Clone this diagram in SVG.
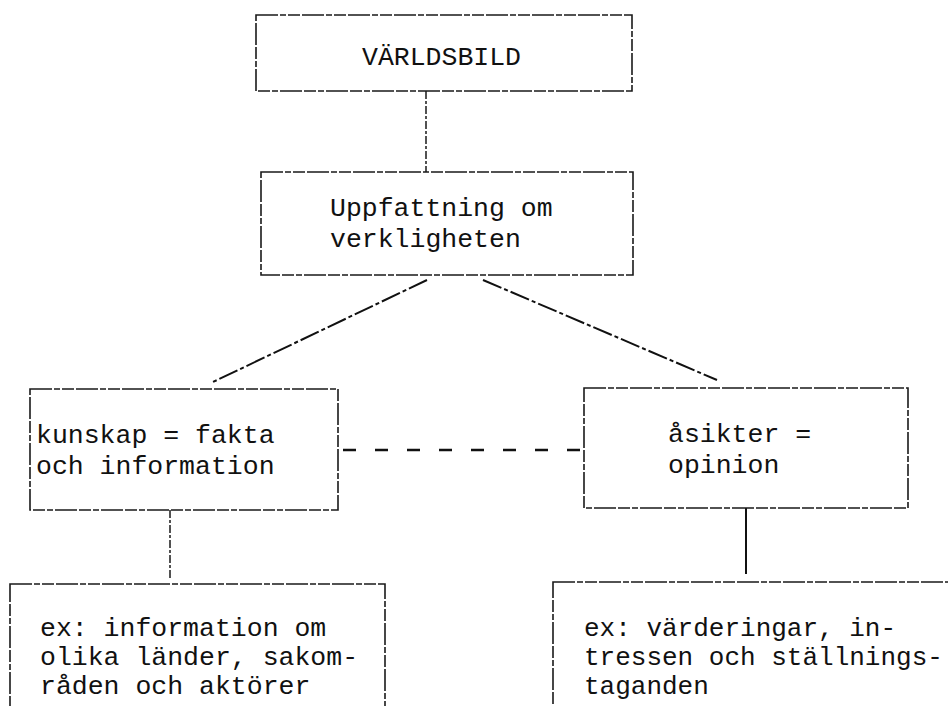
<svg xmlns="http://www.w3.org/2000/svg" width="948" height="706" viewBox="0 0 948 706">
<style>
.bg{fill:#ffffff}
.box{fill:none;stroke:#1a1a1a;stroke-width:1.6;stroke-dasharray:22 2 6 2 12 2}
.t{font-family:"Liberation Mono","DejaVu Sans Mono",monospace;font-size:26.5px;fill:#111}
.t2{font-family:"Liberation Mono","DejaVu Sans Mono",monospace;font-size:26px;fill:#111}
.dash{fill:none;stroke:#1a1a1a;stroke-width:1.5;stroke-dasharray:8 2 3 2}
.diag{fill:none;stroke:#111;stroke-width:2;stroke-dasharray:20 3 4 3}
.link{fill:none;stroke:#111;stroke-width:2.6;stroke-dasharray:13 19}
.solid{fill:none;stroke:#111;stroke-width:2}
</style>
<rect class="bg" x="0" y="0" width="948" height="706"/>
<g id="connectors">
<line class="dash" x1="426" y1="91" x2="426" y2="172"/>
<line class="diag" x1="427" y1="280" x2="213" y2="382"/>
<line class="diag" x1="483" y1="280" x2="717" y2="380"/>
<line class="link" x1="343" y1="450" x2="584" y2="450"/>
<line class="dash" x1="170" y1="510" x2="170" y2="578"/>
<line class="solid" x1="746" y1="508" x2="746" y2="574"/>
</g>
<g id="varldsbild">
<rect class="box" x="256" y="15" width="376" height="76"/>
<text class="t" x="362" y="65">VÄRLDSBILD</text>
</g>
<g id="uppfattning">
<rect class="box" x="261" y="172" width="372" height="103"/>
<text class="t" x="330" y="216">Uppfattning om</text>
<text class="t" x="330" y="247">verkligheten</text>
</g>
<g id="kunskap">
<rect class="box" x="30" y="389" width="308" height="121"/>
<text class="t" x="36" y="443">kunskap = fakta</text>
<text class="t" x="36" y="474">och information</text>
</g>
<g id="asikter">
<rect class="box" x="584" y="388" width="324" height="120"/>
<text class="t" x="668" y="442">åsikter =</text>
<text class="t" x="668" y="473">opinion</text>
</g>
<g id="ex-kunskap">
<rect class="box" x="10" y="584" width="375" height="140"/>
<text class="t" x="40" y="636">ex: information om</text>
<text class="t" x="40" y="665">olika länder, sakom-</text>
<text class="t" x="40" y="694">råden och aktörer</text>
</g>
<g id="ex-asikter">
<rect class="box" x="553" y="582" width="420" height="140"/>
<text class="t2" x="584" y="636">ex: värderingar, in-</text>
<text class="t2" x="584" y="665">tressen och ställnings-</text>
<text class="t2" x="584" y="694">taganden</text>
</g>
</svg>
